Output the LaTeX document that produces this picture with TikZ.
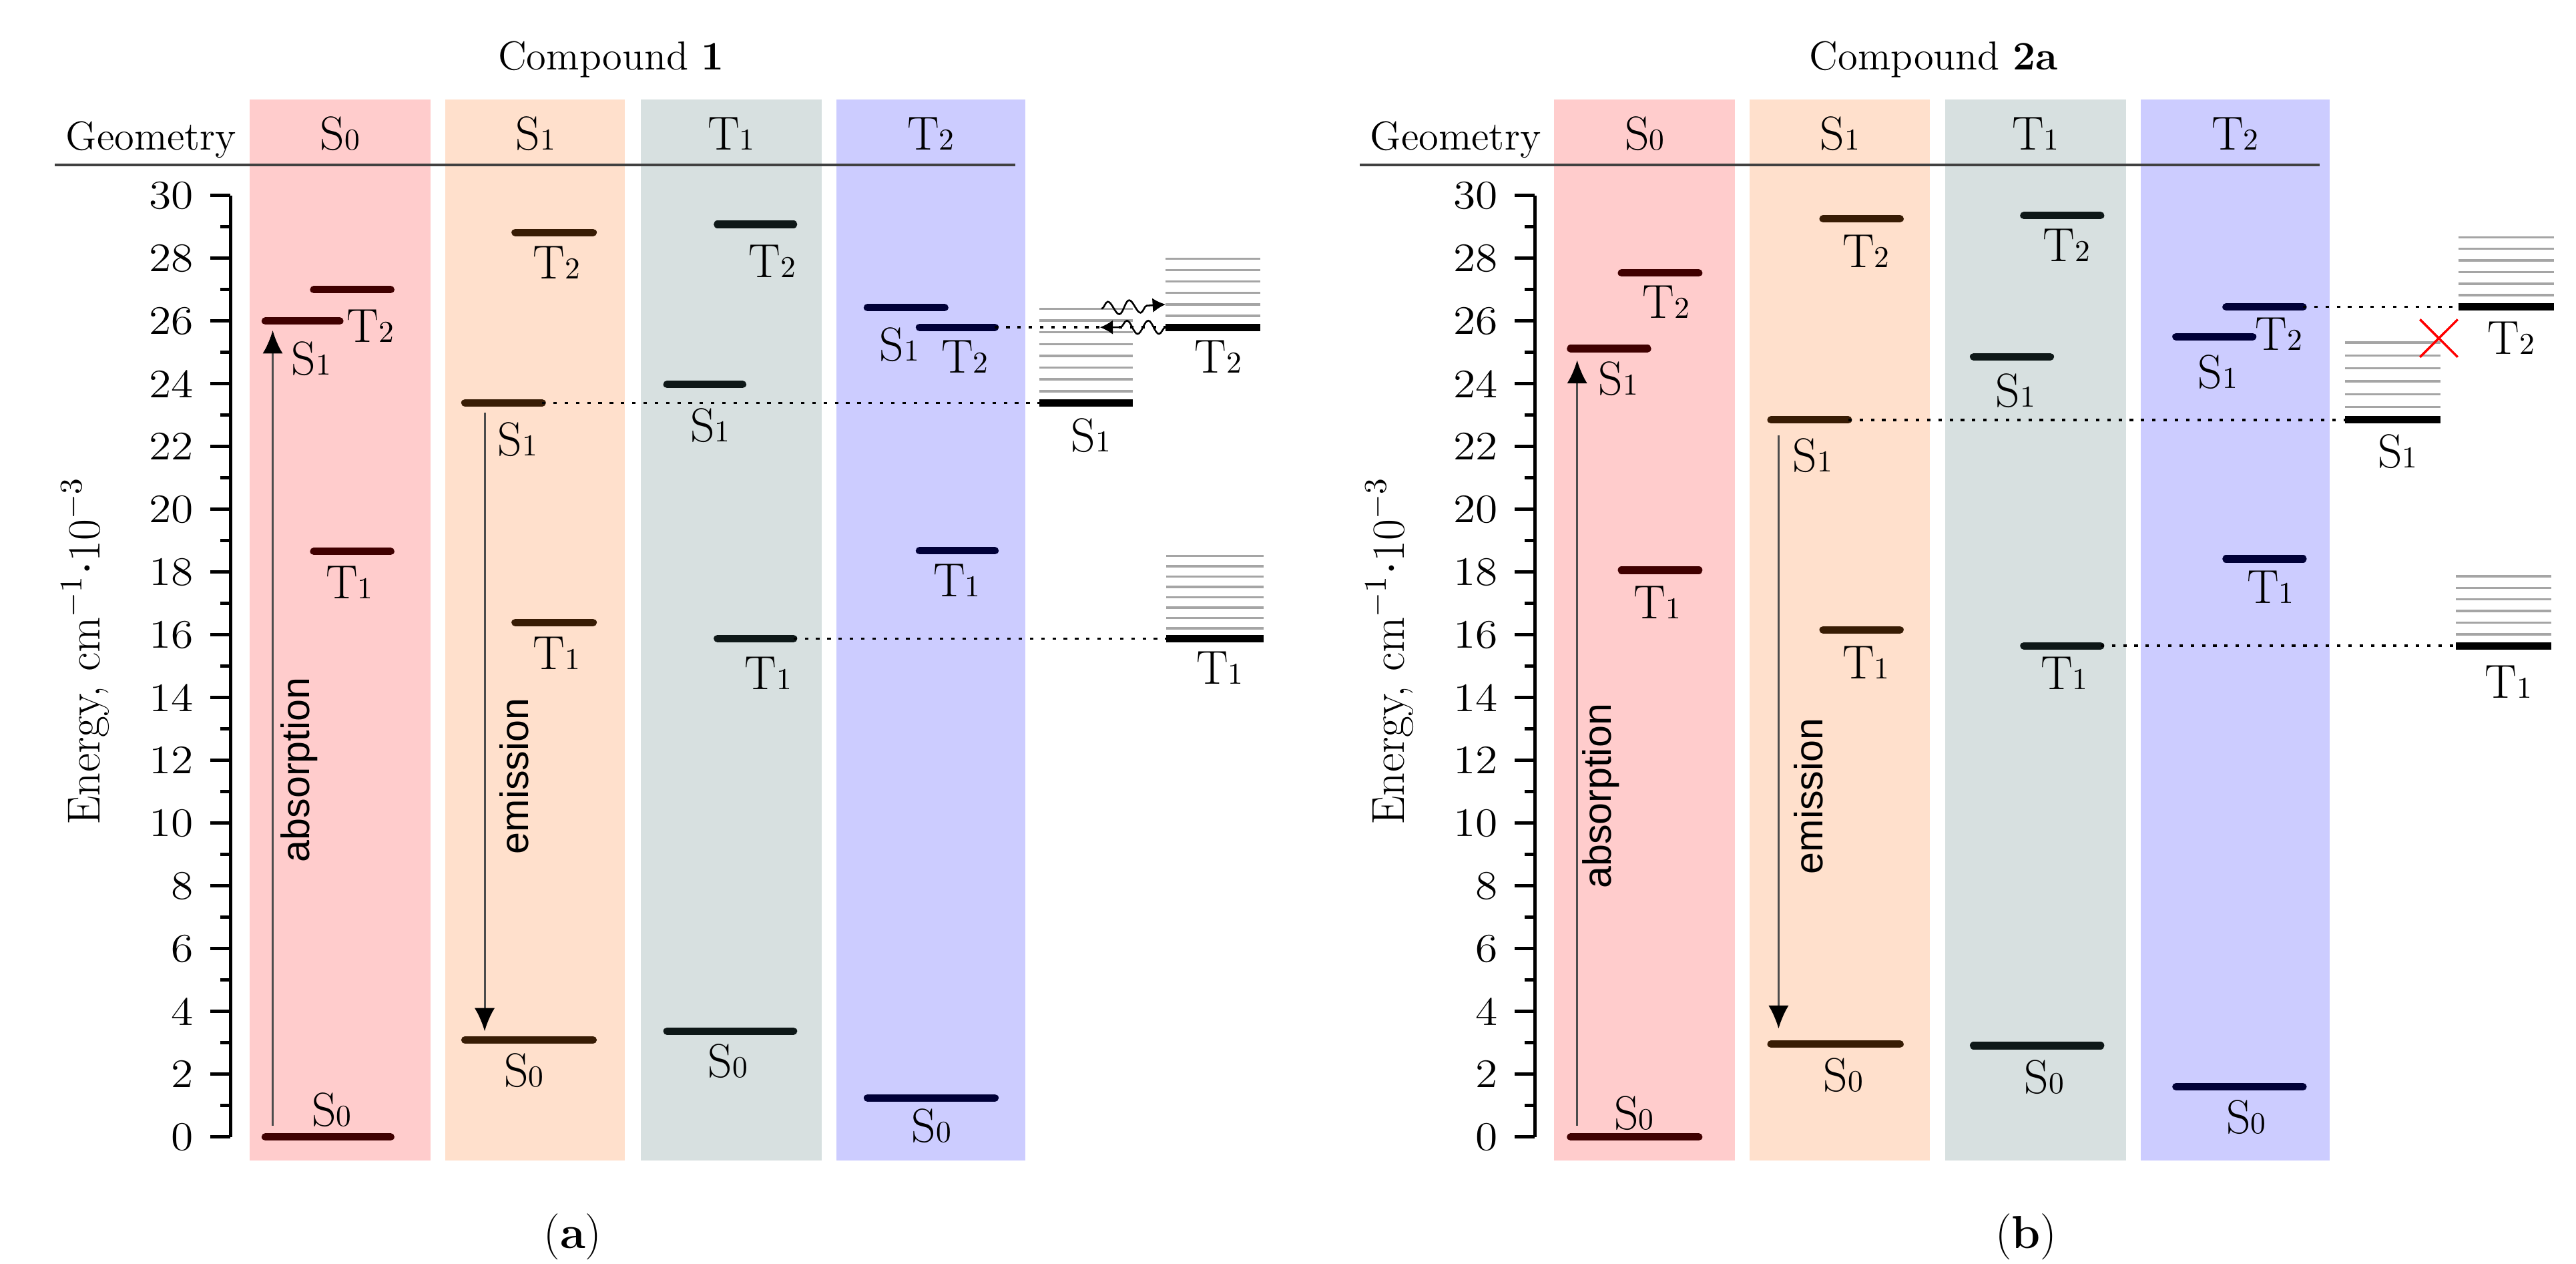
\documentclass[tikz,border=0pt]{standalone}
\usepackage{fontspec}
\newfontfamily\procfont{Liberation Sans}
\usepackage{tikz}
\usetikzlibrary{arrows.meta,decorations.pathmorphing}
\definecolor{bandSo}{RGB}{255,204,204}
\definecolor{bandSi}{RGB}{255,224,204}
\definecolor{bandTi}{RGB}{215,224,224}
\definecolor{bandTii}{RGB}{204,204,255}
\definecolor{levSo}{RGB}{64,0,0}
\definecolor{levSi}{RGB}{56,28,4}
\definecolor{levTi}{RGB}{14,24,24}
\definecolor{levTii}{RGB}{0,0,56}
\definecolor{vibgray}{RGB}{165,165,165}
\tikzset{
  level/.style={line width=2.6pt, line cap=round},
  ladthick/.style={line width=2.6pt, black},
  vib/.style={line width=0.8pt, vibgray},
  guide/.style={line width=0.8pt, dash pattern=on 1.2pt off 2.7pt},
  trans/.style={line width=0.7pt, black!70, -{Latex[length=8pt,width=7pt,color=black]}},
  wave/.style={line width=0.6pt, -{Latex[length=4.5pt,width=5pt]},
    decorate, decoration={snake, amplitude=2.3pt, segment length=7.4pt, post length=4.5pt}},
  cross/.style={line width=0.8pt, red},
  headline/.style={line width=0.8pt, black!75},
  axisln/.style={line width=1.1pt, black},
  statelbl/.style={font=\fontsize{16.5}{16.5}\selectfont, inner sep=0pt},
  ticklbl/.style={font=\fontsize{14}{14}\selectfont, anchor=east, inner sep=0pt, xscale=1.12},
  head/.style={font=\fontsize{14}{14}\selectfont, anchor=base, inner sep=0pt},
  procname/.style={font=\procfont\fontsize{13.7}{13.7}\selectfont, rotate=90, inner sep=0pt}
}
% state name with a small figure on the base line
\newcommand{\sname}[2]{#1{\fontsize{10.5}{10.5}\selectfont#2}}
% energy level: name, x left, x right, energy, colour, label x, label y, label
\newcommand{\lev}[8]{%
  \draw[level, #5] (#2,#4) coordinate (#1l) -- (#3,#4) coordinate (#1r);
  \node[statelbl] (#1t) at (#6,#7) {#8};}
% vibrational ladder: name, x left, x right, energy, lines, spacing, label y, label
\newcommand{\ladder}[8]{%
  \foreach \k in {1,...,#5}
    \draw[vib] (#2,{#4+\k*#6}) -- (#3,{#4+\k*#6});
  \draw[ladthick] (#2,#4) coordinate (#1l) -- (#3,#4) coordinate (#1r);
  \node[statelbl] (#1t) at ({(#2+#3)/2+3},#7) {#8};}

\begin{document}
\begin{tikzpicture}[x=0.02cm, y=0.382cm]
\useasboundingbox (0,-4.03) rectangle (1568,36.23);

% frame of both panels
\foreach \dx/\pn/\cmp/\cx/\px in {0/a/1/372/348.6, 794/b/2a/1177/1233.3} {
  % geometry columns
  \fill[bandSo] (152+\dx,-0.75) rectangle (262+\dx,33.06);
  \fill[bandSi] (271+\dx,-0.75) rectangle (380.5+\dx,33.06);
  \fill[bandTi] (390+\dx,-0.75) rectangle (500+\dx,33.06);
  \fill[bandTii] (509+\dx,-0.75) rectangle (624+\dx,33.06);
  % header
  \node[head] (\pn-title) at (\cx,34.0) {Compound \textbf{\cmp}};
  \node[head] (\pn-geo) at (92+\dx,31.45) {Geometry};
  \node[statelbl, anchor=base] (\pn-hSo) at (207+\dx,31.45) {\sname{S}{0}};
  \node[statelbl, anchor=base] (\pn-hSi) at (326+\dx,31.45) {\sname{S}{1}};
  \node[statelbl, anchor=base] (\pn-hTi) at (445+\dx,31.45) {\sname{T}{1}};
  \node[statelbl, anchor=base] (\pn-hTii) at (566.5+\dx,31.45) {\sname{T}{2}};
  \draw[headline] (33.5+\dx,30.97) -- (618+\dx,30.97);
  % energy axis
  \draw[axisln] (140.3+\dx,0) -- (140.3+\dx,30);
  \foreach \e in {0,2,...,30} {
    \draw[axisln] (128+\dx,\e) -- (140.3+\dx,\e);
    \node[ticklbl] (\pn-tick\e) at (118+\dx,\e) {\e};
  }
  \foreach \e in {1,3,...,29}
    \draw[axisln] (134+\dx,\e) -- (140.3+\dx,\e);
  \node[font=\fontsize{16}{16}\selectfont, rotate=90, inner sep=0pt] (\pn-energy) at (52+\dx,15.48) {Energy, cm$^{-1}\cdot$10$^{-3}$};
  \node[head, font=\fontsize{16}{16}\selectfont] (\pn-cap) at (\px,-3.55) {(\textbf{\pn})};
}

% Compound 1
\lev{aSoSo}{161.5}{237.8}{0}{levSo}{201.8}{0.87}{\sname{S}{0}}
\lev{aSoSi}{161.5}{206.8}{26.0}{levSo}{189.5}{24.81}{\sname{S}{1}}
\lev{aSoTii}{191}{237.8}{27.0}{levSo}{225.5}{25.84}{\sname{T}{2}}
\lev{aSoTi}{191}{237.8}{18.66}{levSo}{212.7}{17.68}{\sname{T}{1}}

\lev{aSiSo}{283}{361}{3.09}{levSi}{319}{2.11}{\sname{S}{0}}
\lev{aSiSi}{283}{330}{23.39}{levSi}{315}{22.23}{\sname{S}{1}}
\lev{aSiTi}{313.6}{361}{16.39}{levSi}{338.7}{15.41}{\sname{T}{1}}
\lev{aSiTii}{313.6}{361}{28.82}{levSi}{338.7}{27.87}{\sname{T}{2}}

\lev{aTiSo}{406}{483}{3.37}{levTi}{443}{2.42}{\sname{S}{0}}
\lev{aTiSi}{406}{452}{23.98}{levTi}{432.2}{22.67}{\sname{S}{1}}
\lev{aTiTi}{436.7}{483}{15.88}{levTi}{467.7}{14.77}{\sname{T}{1}}
\lev{aTiTii}{436.7}{483}{29.08}{levTi}{470}{27.9}{\sname{T}{2}}

\lev{aTiiSo}{528}{605.6}{1.24}{levTii}{567}{0.36}{\sname{S}{0}}
\lev{aTiiSi}{528}{575}{26.43}{levTii}{547.4}{25.24}{\sname{S}{1}}
\lev{aTiiTii}{559.7}{605.6}{25.8}{levTii}{587.3}{24.86}{\sname{T}{2}}
\lev{aTiiTi}{559.7}{605.6}{18.68}{levTii}{582.4}{17.73}{\sname{T}{1}}

\ladder{aLSi}{632.5}{689.7}{23.39}{8}{0.375}{22.36}{\sname{S}{1}}
\ladder{aLTii}{709.5}{767.3}{25.8}{6}{0.365}{24.86}{\sname{T}{2}}
\ladder{aLTi}{710}{769}{15.88}{8}{0.33}{14.95}{\sname{T}{1}}

\draw[guide] (aSiSir) -- (aLSil);
\draw[guide] (aTiTir) -- (aLTil);
\draw[guide] (aTiiTiir) -- (aLTiil);

\coordinate (aWa) at (670.5,26.39);
\coordinate (aWb) at (709.5,26.53);
\coordinate (aWc) at (669.5,25.8);
\draw[wave] (aWa) -- (aWb);
\draw[wave] (aLTiil) -- (aWc);

\coordinate (aAbs0) at (166,0.36);
\coordinate (aAbs1) at (166,25.7);
\draw[trans] (aAbs0) -- (aAbs1);
\node[procname] (aAbsT) at (182,11.7) {absorption};
\coordinate (aEm0) at (295,23.08);
\coordinate (aEm1) at (295,3.37);
\draw[trans] (aEm0) -- (aEm1);
\node[procname] (aEmT) at (313,11.5) {emission};

% Compound 2a
\lev{bSoSo}{956}{1034}{0}{levSo}{994.5}{0.75}{\sname{S}{0}}
\lev{bSoSi}{956}{1002.8}{25.12}{levSo}{985.1}{24.16}{\sname{S}{1}}
\lev{bSoTii}{987}{1034}{27.53}{levSo}{1014.2}{26.61}{\sname{T}{2}}
\lev{bSoTi}{987}{1034}{18.06}{levSo}{1008.8}{17.04}{\sname{T}{1}}

\lev{bSiSo}{1078}{1156.5}{2.96}{levSi}{1122}{1.98}{\sname{S}{0}}
\lev{bSiSi}{1078}{1125}{22.85}{levSi}{1103.3}{21.72}{\sname{S}{1}}
\lev{bSiTi}{1109.7}{1156.5}{16.16}{levSi}{1135.8}{15.11}{\sname{T}{1}}
\lev{bSiTii}{1109.7}{1156.5}{29.26}{levSi}{1135.8}{28.23}{\sname{T}{2}}

\lev{bTiSo}{1201.3}{1278.6}{2.91}{levTi}{1244.2}{1.9}{\sname{S}{0}}
\lev{bTiSi}{1201.3}{1248}{24.86}{levTi}{1226.9}{23.78}{\sname{S}{1}}
\lev{bTiTi}{1231.9}{1278.6}{15.65}{levTi}{1256.5}{14.77}{\sname{T}{1}}
\lev{bTiTii}{1231.9}{1278.6}{29.36}{levTi}{1258}{28.41}{\sname{T}{2}}

\lev{bTiiSo}{1324.5}{1401.8}{1.6}{levTii}{1367.3}{0.62}{\sname{S}{0}}
\lev{bTiiSi}{1324.5}{1371.2}{25.5}{levTii}{1350}{24.37}{\sname{S}{1}}
\lev{bTiiTii}{1355}{1401.8}{26.45}{levTii}{1387}{25.58}{\sname{T}{2}}
\lev{bTiiTi}{1355}{1401.8}{18.42}{levTii}{1382}{17.52}{\sname{T}{1}}

\ladder{bLSi}{1427.4}{1485.5}{22.85}{6}{0.41}{21.85}{\sname{S}{1}}
\ladder{bLTii}{1496.3}{1554.5}{26.45}{6}{0.37}{25.45}{\sname{T}{2}}
\ladder{bLTi}{1495}{1553}{15.65}{6}{0.37}{14.51}{\sname{T}{1}}

\draw[guide] (bSiSir) -- (bLSil);
\draw[guide] (bTiTir) -- (bLTil);
\draw[guide] (bTiiTiir) -- (bLTiil);

% blocked crossing
\coordinate (bX) at (1484.5,25.45);
\draw[cross] (bX) ++(-11.5,-0.6) -- ++(23,1.2) (bX) ++(-11.5,0.6) -- ++(23,-1.2);

\coordinate (bAbs0) at (960,0.36);
\coordinate (bAbs1) at (960,24.75);
\draw[trans] (bAbs0) -- (bAbs1);
\node[procname] (bAbsT) at (974.3,10.86) {absorption};
\coordinate (bEm0) at (1082.6,22.36);
\coordinate (bEm1) at (1082.6,3.45);
\draw[trans] (bEm0) -- (bEm1);
\node[procname] (bEmT) at (1101,10.86) {emission};
\end{tikzpicture}
\end{document}
